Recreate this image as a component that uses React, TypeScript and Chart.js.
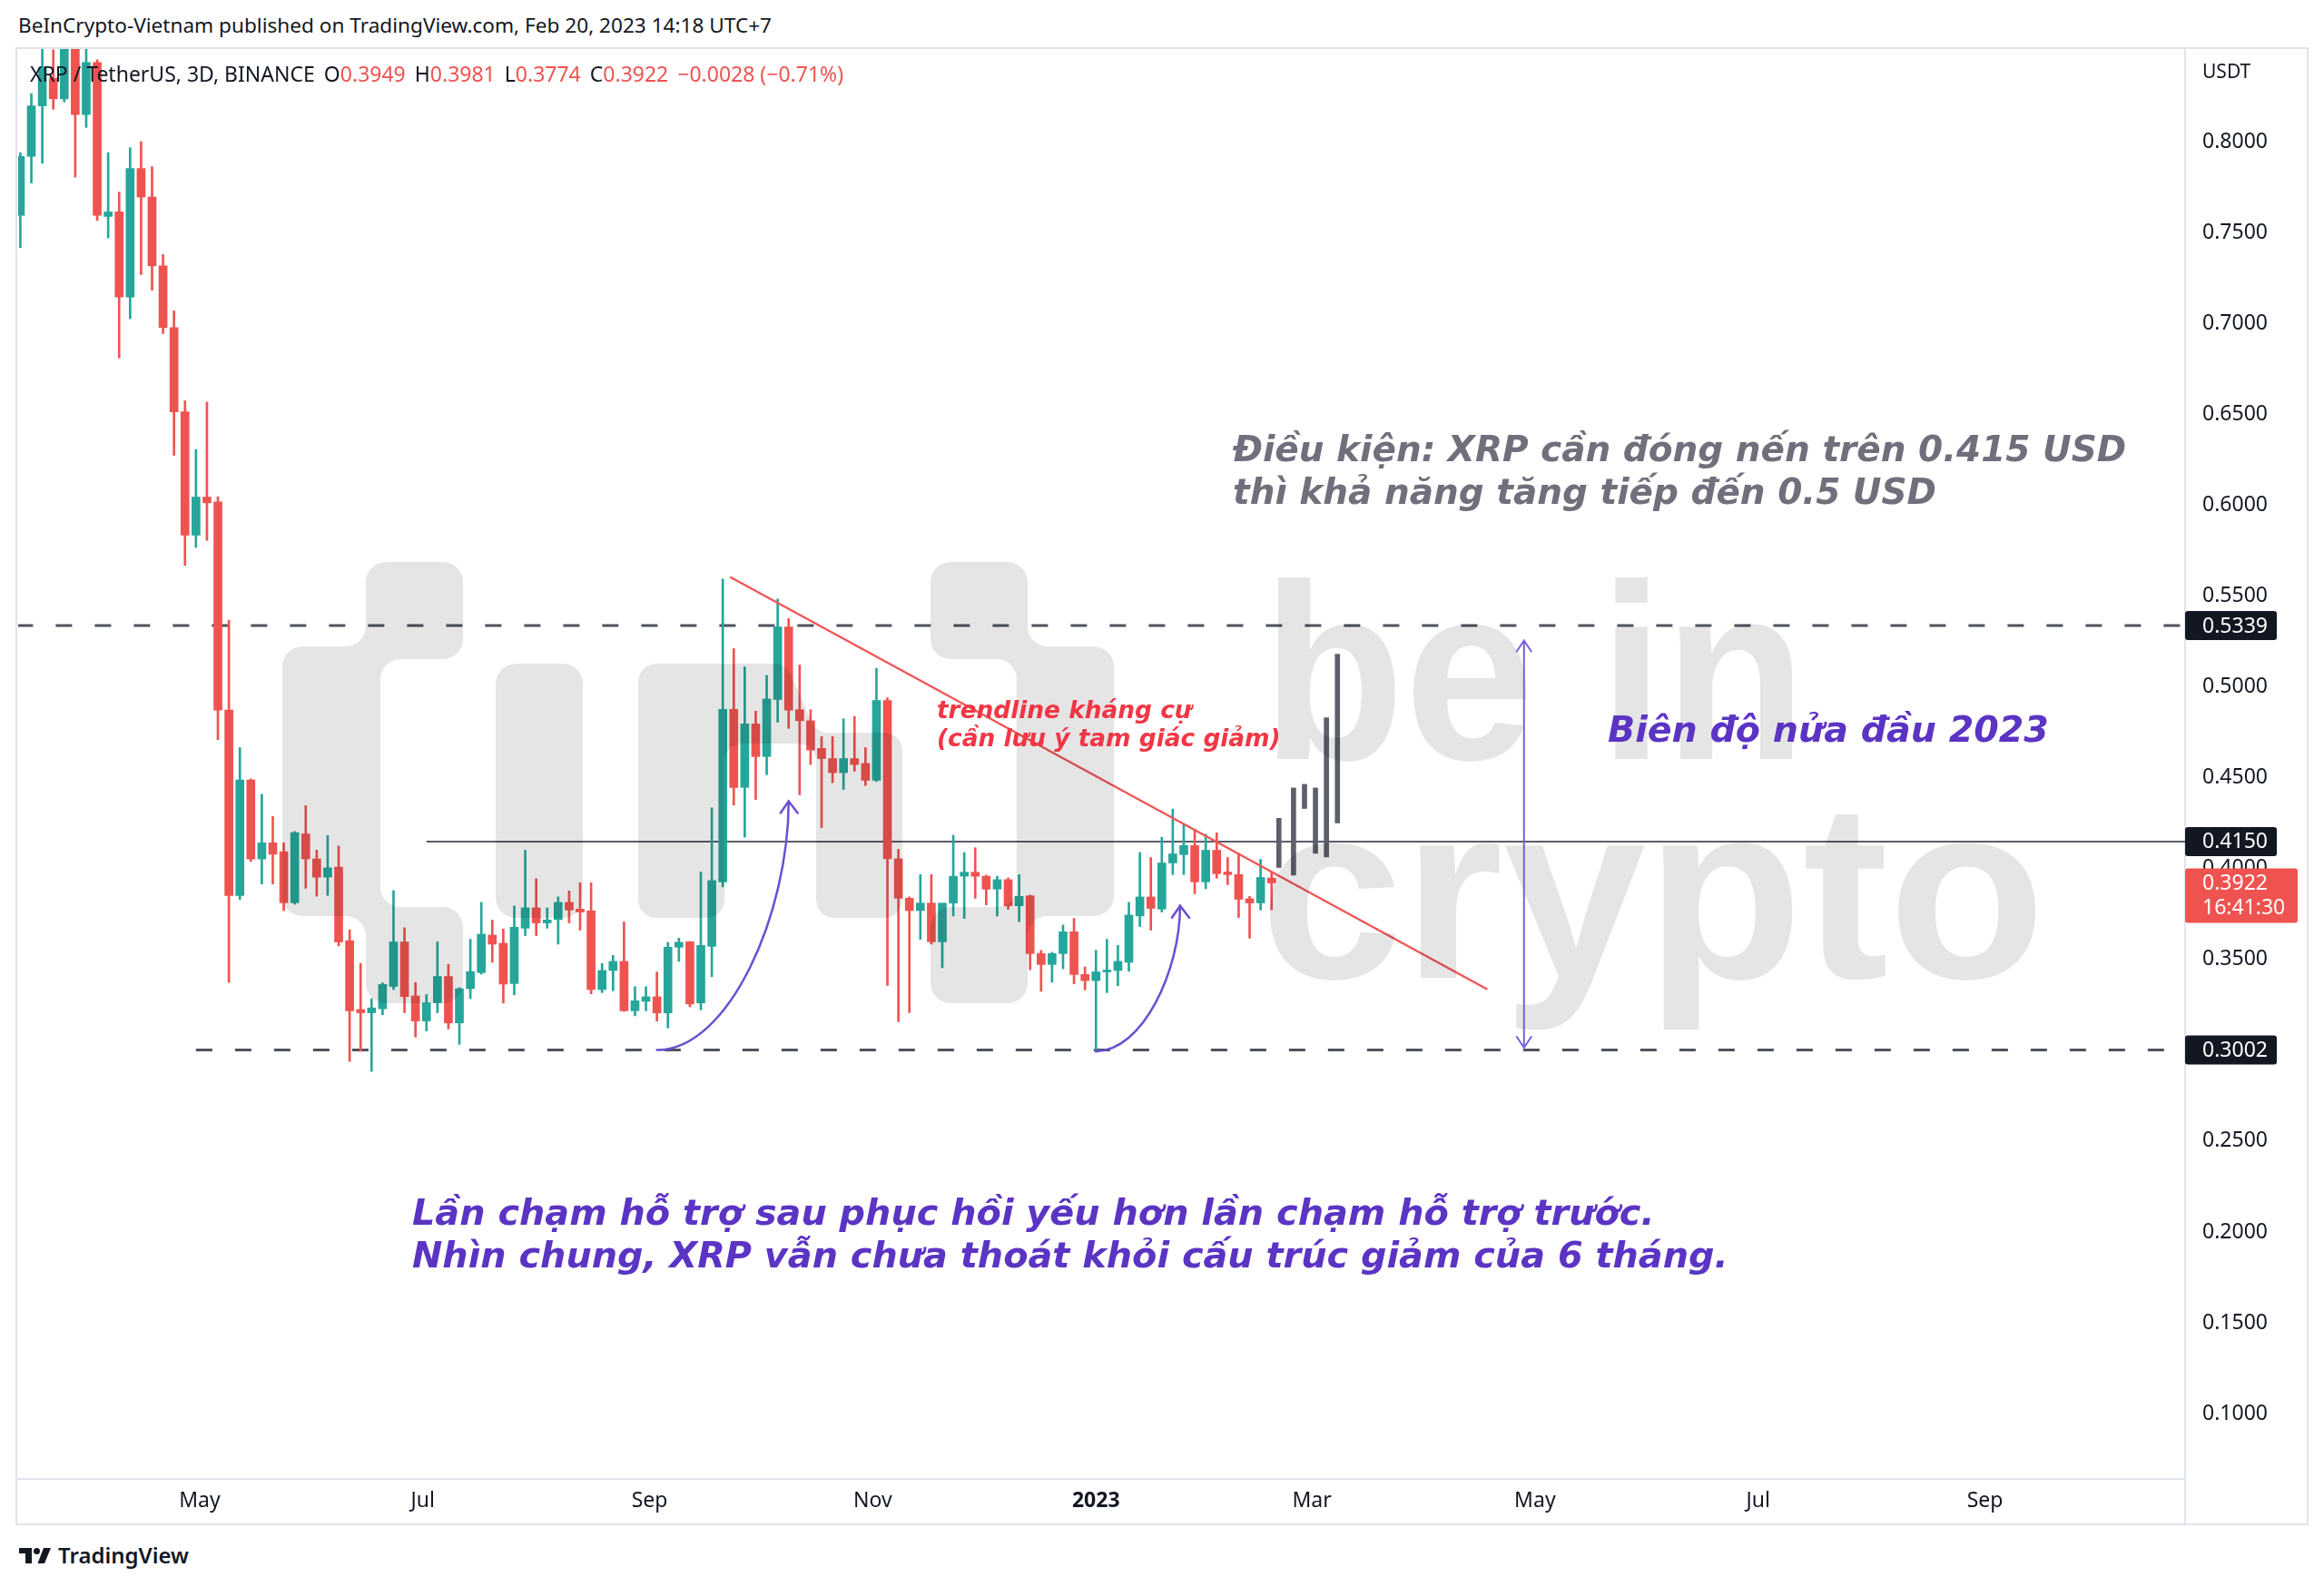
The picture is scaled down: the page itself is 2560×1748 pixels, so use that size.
import React, { useEffect, useRef } from 'react';
import { Chart, registerables } from 'chart.js';

Chart.register(...registerables);

const FONT = "'Noto Sans', 'Open Sans', sans-serif";
const ANN_FONT = "'DejaVu Sans', 'Open Sans', sans-serif";
const GREEN = '#26a69a';
const RED = '#ef5350';

// ---- data -------------------------------------------------------------
const FIRST_CANDLE = '2022-03-13';
const STEP_DAYS = 3;

const opens = [
  0.7598, 0.7923, 0.8201, 0.8354, 0.824, 0.865, 0.8153, 0.844, 0.7592, 0.7617,
  0.7148, 0.7856, 0.7699, 0.732, 0.698, 0.6516, 0.5837, 0.6047, 0.602, 0.4874,
  0.3853, 0.4489, 0.4054, 0.4143, 0.4094, 0.3813, 0.4192, 0.4054, 0.3954, 0.4009,
  0.3604, 0.3225, 0.3207, 0.3229, 0.3352, 0.3597, 0.33, 0.3162, 0.3262, 0.3407,
  0.3151, 0.334, 0.3428, 0.3635, 0.359, 0.3368, 0.3673, 0.3785, 0.3702, 0.372,
  0.3815, 0.3778, 0.3768, 0.3335, 0.344, 0.349, 0.3218, 0.327, 0.3295, 0.3206,
  0.3568, 0.3598, 0.3261, 0.3573, 0.3928, 0.4878, 0.4448, 0.4798, 0.4618, 0.4932,
  0.5332, 0.4876, 0.4815, 0.4663, 0.4607, 0.4529, 0.4607, 0.458, 0.4487, 0.4926,
  0.4055, 0.3838, 0.377, 0.3811, 0.3598, 0.3811, 0.3959, 0.3981, 0.3959, 0.3888,
  0.394, 0.3796, 0.3851, 0.3533, 0.3473, 0.3533, 0.3653, 0.3418, 0.3384, 0.3432,
  0.344, 0.3485, 0.374, 0.3845, 0.3778, 0.4032, 0.4078, 0.4128, 0.3928, 0.4102,
  0.3982, 0.3968, 0.3835, 0.3812, 0.3949,
];
const highs = [
  0.7943, 0.8268, 0.856, 0.851, 0.875, 0.872, 0.862, 0.8455, 0.7943, 0.7726,
  0.7971, 0.8004, 0.7866, 0.7382, 0.7072, 0.6577, 0.6309, 0.657, 0.6049, 0.5369,
  0.4667, 0.4495, 0.441, 0.4288, 0.4143, 0.4205, 0.4348, 0.4103, 0.4183, 0.4125,
  0.3664, 0.3479, 0.3285, 0.3372, 0.388, 0.3675, 0.3374, 0.3307, 0.3597, 0.3474,
  0.3345, 0.3612, 0.3815, 0.3718, 0.3668, 0.3795, 0.4102, 0.3945, 0.3785, 0.3845,
  0.3878, 0.3923, 0.3923, 0.3478, 0.3523, 0.3707, 0.3351, 0.3351, 0.3432, 0.3595,
  0.3618, 0.36, 0.3982, 0.4335, 0.5595, 0.5212, 0.5112, 0.4868, 0.5065, 0.5485,
  0.5378, 0.5122, 0.4876, 0.4728, 0.4728, 0.4826, 0.4839, 0.4667, 0.5104, 0.4941,
  0.4107, 0.3845, 0.3968, 0.3968, 0.3605, 0.4185, 0.4089, 0.4116, 0.3965, 0.3959,
  0.395, 0.3968, 0.3855, 0.3551, 0.354, 0.369, 0.3727, 0.3459, 0.3551, 0.3612,
  0.3578, 0.3815, 0.409, 0.4062, 0.4173, 0.4329, 0.4245, 0.4218, 0.419, 0.4198,
  0.4062, 0.4085, 0.3848, 0.4052, 0.3981,
];
const lows = [
  0.742, 0.7776, 0.7885, 0.8182, 0.8222, 0.7809, 0.8082, 0.757, 0.7474, 0.6813,
  0.7029, 0.7272, 0.7186, 0.6947, 0.6277, 0.567, 0.577, 0.5808, 0.4711, 0.3374,
  0.3831, 0.404, 0.3916, 0.3916, 0.3769, 0.3805, 0.3893, 0.3849, 0.3853, 0.3575,
  0.2939, 0.2995, 0.2884, 0.3196, 0.3335, 0.3207, 0.3073, 0.3107, 0.3207, 0.3118,
  0.3033, 0.3285, 0.342, 0.3485, 0.3261, 0.3306, 0.3632, 0.3632, 0.3673, 0.3585,
  0.3702, 0.3662, 0.3311, 0.3318, 0.3328, 0.3215, 0.319, 0.3218, 0.3161, 0.3123,
  0.349, 0.324, 0.3223, 0.3406, 0.39, 0.4351, 0.4174, 0.4381, 0.4518, 0.4807,
  0.4773, 0.4407, 0.4574, 0.4227, 0.4474, 0.4437, 0.4537, 0.4459, 0.448, 0.3357,
  0.3158, 0.3208, 0.3611, 0.3585, 0.3455, 0.374, 0.3727, 0.3838, 0.3801, 0.374,
  0.3777, 0.3709, 0.3444, 0.3325, 0.3375, 0.3449, 0.3366, 0.3333, 0.299, 0.3318,
  0.3356, 0.3435, 0.3682, 0.3662, 0.3762, 0.3968, 0.3968, 0.3862, 0.389, 0.3948,
  0.3912, 0.3732, 0.3618, 0.3773, 0.3774,
];
const closes = [
  0.7923, 0.8201, 0.8412, 0.824, 0.868, 0.8153, 0.844, 0.7598, 0.7617, 0.7148,
  0.7856, 0.7699, 0.732, 0.698, 0.6516, 0.5837, 0.6047, 0.6015, 0.4874, 0.3853,
  0.4489, 0.4054, 0.4143, 0.408, 0.3813, 0.4199, 0.4054, 0.3954, 0.4005, 0.3597,
  0.3218, 0.3207, 0.3234, 0.3363, 0.3597, 0.3296, 0.3162, 0.3262, 0.3407, 0.3151,
  0.334, 0.3434, 0.364, 0.3585, 0.3365, 0.3678, 0.3785, 0.3702, 0.3718, 0.3815,
  0.3773, 0.3762, 0.3335, 0.344, 0.349, 0.3218, 0.3273, 0.3295, 0.3206, 0.3568,
  0.3595, 0.3256, 0.3578, 0.3935, 0.4878, 0.4448, 0.4798, 0.4618, 0.4935, 0.5332,
  0.4873, 0.4815, 0.4654, 0.4607, 0.4529, 0.4607, 0.4574, 0.4487, 0.4926, 0.4055,
  0.3838, 0.377, 0.3811, 0.3598, 0.3811, 0.3959, 0.3981, 0.3959, 0.3888, 0.394,
  0.3796, 0.3848, 0.3533, 0.3473, 0.3533, 0.3653, 0.3418, 0.3384, 0.3432, 0.344,
  0.349, 0.3745, 0.3845, 0.3782, 0.4032, 0.4082, 0.4128, 0.3928, 0.4102, 0.3973,
  0.3968, 0.3832, 0.3812, 0.3952, 0.3922,
];

// projected (ghost) bars
const projDates = ['2023-02-20', '2023-02-24', '2023-02-27', '2023-03-02', '2023-03-05', '2023-03-08'];
const projLows = [0.4007, 0.3965, 0.4332, 0.4085, 0.4065, 0.4252];
const projHighs = [0.4278, 0.4445, 0.4465, 0.4445, 0.4832, 0.5182];

// horizontal levels
const levelPrices = [0.5339, 0.3002, 0.415];
const levelStarts = ['2022-03-12', '2022-04-30', '2022-07-02'];
const levelDashed = [true, true, false];

// trendline
const trendDates = ['2022-09-23', '2023-04-18'];
const trendPrices = [0.5607, 0.3336];

// purple arrows (start -> end)
const arrowADates = ['2022-09-03', '2022-10-09'];
const arrowAPrices = [0.3002, 0.4372];
const arrowBDates = ['2023-01-01', '2023-01-24'];
const arrowBPrices = [0.2995, 0.3796];
const rangeArrowDate = '2023-04-28';
const rangeArrowPrices = [0.5257, 0.3015];

// axes
const priceTicks = [0.1, 0.15, 0.2, 0.25, 0.3, 0.35, 0.4, 0.45, 0.5, 0.55, 0.6, 0.65, 0.7, 0.75, 0.8];
const monthTickDates = ['2022-05-01', '2022-07-01', '2022-09-01', '2022-11-01', '2023-01-01', '2023-03-01', '2023-05-01', '2023-07-01', '2023-09-01'];
const monthTickLabels = ['May', 'Jul', 'Sep', 'Nov', '2023', 'Mar', 'May', 'Jul', 'Sep'];
const Y_MIN = 0.064;
const Y_MAX = 0.8514;
const X_MIN_DATE = '2022-03-12';
const X_MAX_DATE = '2023-10-25';

// right-axis price labels
const axisBoxPrices = [0.5339, 0.415, 0.3002];
const lastPrice = 0.3922;
const lastPriceTimer = '16:41:30';

// ---- helpers ----------------------------------------------------------
const dayNum = (s: string) => Date.parse(s + 'T00:00:00Z') / 86400000;
const candleDays = opens.map((_, i) => dayNum(FIRST_CANDLE) + i * STEP_DAYS);
const X_MIN = dayNum(X_MIN_DATE) + 0.4;
const X_MAX = dayNum(X_MAX_DATE) + 0.7;

// canvas offset in page
const OX = 18;
const OY = 53;

function rr(ctx: CanvasRenderingContext2D, x: number, y: number, w: number, h: number, r: number) {
  ctx.moveTo(x + r, y);
  ctx.arcTo(x + w, y, x + w, y + h, r);
  ctx.arcTo(x + w, y + h, x, y + h, r);
  ctx.arcTo(x, y + h, x, y, r);
  ctx.arcTo(x, y, x + w, y, r);
  ctx.closePath();
}

function poly(ctx: CanvasRenderingContext2D, pts: number[][], r: number) {
  const n = pts.length;
  const mid = (a: number[], b: number[]) => [(a[0] + b[0]) / 2, (a[1] + b[1]) / 2];
  const start = mid(pts[n - 1], pts[0]);
  ctx.moveTo(start[0], start[1]);
  for (let i = 0; i < n; i++) {
    const p = pts[i];
    const q = pts[(i + 1) % n];
    ctx.arcTo(p[0], p[1], q[0], q[1], r);
  }
  ctx.closePath();
}

function fitText(ctx: CanvasRenderingContext2D, text: string, x: number, base: number, width: number) {
  const m = ctx.measureText(text).width;
  ctx.save();
  ctx.translate(x, base);
  ctx.scale(width / m, 1);
  ctx.fillText(text, 0, 0);
  ctx.restore();
}

const watermarkPlugin = {
  id: 'watermark',
  afterDatasetsDraw(chart: any) {
    const ctx: CanvasRenderingContext2D = chart.ctx;
    ctx.save();
    ctx.translate(-OX, -OY);
    ctx.fillStyle = 'rgba(0,0,0,0.1)';
    ctx.beginPath();
    // left bracket
    poly(ctx, [[403, 619], [510, 619], [510, 726], [419, 726], [419, 999], [510, 999], [510, 1105], [403, 1105], [403, 1009], [311, 1009], [311, 712], [403, 712]], 22);
    // i
    rr(ctx, 546, 731, 96, 280, 22);
    // n
    poly(ctx, [[703, 731], [866, 731], [899, 807], [994, 807], [994, 1011], [899, 1011], [899, 819], [798, 819], [798, 1011], [703, 1011]], 20);
    // right bracket
    poly(ctx, [[1025, 619], [1132, 619], [1132, 712], [1227, 712], [1227, 1009], [1132, 1009], [1132, 1105], [1025, 1105], [1025, 999], [1120, 999], [1120, 726], [1025, 726]], 22);
    ctx.fill();
    ctx.font = "bold 276px 'Liberation Sans', Arial, sans-serif";
    ctx.textBaseline = 'alphabetic';
    fitText(ctx, 'be in', 1390, 836, 600);
    fitText(ctx, 'crypto', 1388, 1077, 865);
    ctx.restore();
  },
};

const overlayPlugin = {
  id: 'overlay',
  afterDraw(chart: any) {
    const ctx: CanvasRenderingContext2D = chart.ctx;
    const xs = chart.scales.x;
    const ys = chart.scales.y;
    const area = chart.chartArea;
    const px = (d: string) => xs.getPixelForValue(dayNum(d));
    const py = (p: number) => ys.getPixelForValue(p);

    ctx.save();
    ctx.strokeStyle = '#e0e3eb';
    ctx.lineWidth = 2;
    ctx.beginPath();
    ctx.moveTo(area.right, area.bottom);
    ctx.lineTo(area.right, chart.height);
    ctx.stroke();

    // purple curved arrows
    ctx.strokeStyle = '#6a4fd2';
    ctx.lineWidth = 2.5;
    ctx.lineCap = 'round';
    const curve = (dates: string[], prices: number[]) => {
      const x0 = px(dates[0]), y0 = py(prices[0]);
      const x1 = px(dates[1]), y1 = py(prices[1]);
      ctx.beginPath();
      ctx.moveTo(x0, y0);
      ctx.bezierCurveTo(x0 + 0.55 * (x1 - x0), y0, x1, y1 + 0.45 * (y0 - y1), x1, y1);
      ctx.stroke();
      ctx.beginPath();
      ctx.moveTo(x1 - 9, y1 + 13);
      ctx.lineTo(x1, y1);
      ctx.lineTo(x1 + 10, y1 + 13);
      ctx.stroke();
    };
    curve(arrowADates, arrowAPrices);
    curve(arrowBDates, arrowBPrices);

    // vertical range arrow
    ctx.strokeStyle = '#7a5fd8';
    ctx.lineWidth = 2;
    const vx = px(rangeArrowDate);
    const vt = py(rangeArrowPrices[0]);
    const vb = py(rangeArrowPrices[1]);
    ctx.beginPath();
    ctx.moveTo(vx, vt);
    ctx.lineTo(vx, vb);
    ctx.moveTo(vx - 8, vt + 12);
    ctx.lineTo(vx, vt);
    ctx.lineTo(vx + 8, vt + 12);
    ctx.moveTo(vx - 8, vb - 12);
    ctx.lineTo(vx, vb);
    ctx.lineTo(vx + 8, vb - 12);
    ctx.stroke();

    // right axis price boxes
    ctx.font = `23px ${FONT}`;
    ctx.textBaseline = 'middle';
    ctx.textAlign = 'left';
    axisBoxPrices.forEach((p) => {
      const y = py(p);
      ctx.fillStyle = '#131722';
      ctx.beginPath();
      rr(ctx, area.right, y - 16, 101, 32, 3);
      ctx.fill();
      ctx.fillStyle = '#ffffff';
      ctx.fillText(p.toFixed(4), area.right + 19, y + 1);
    });
    const ly = py(lastPrice);
    ctx.fillStyle = RED;
    ctx.beginPath();
    rr(ctx, area.right, ly - 16, 124, 60, 3);
    ctx.fill();
    ctx.fillStyle = '#ffffff';
    ctx.fillText(lastPrice.toFixed(4), area.right + 19, ly + 1);
    ctx.fillText(lastPriceTimer, area.right + 19, ly + 28);
    ctx.restore();
  },
};

export default function App() {
  const ref = useRef<HTMLCanvasElement | null>(null);

  useEffect(() => {
    if (!ref.current) return;
    const bodyColor = (c: any) => (closes[c.dataIndex] >= opens[c.dataIndex] ? GREEN : RED);
    const levelSets = levelPrices.map((p, i) => ({
      type: 'line' as const,
      data: [
        { x: dayNum(levelStarts[i]), y: p },
        { x: X_MAX, y: p },
      ],
      borderColor: levelDashed[i] ? '#50535e' : '#5a5d68',
      borderWidth: levelDashed[i] ? 3 : 2,
      borderDash: levelDashed[i] ? [18, 25] : [],
      pointRadius: 0,
      order: 5,
    }));

    const chart = new Chart(ref.current, {
      type: 'bar',
      data: {
        datasets: [
          {
            type: 'line',
            data: trendDates.map((d, i) => ({ x: dayNum(d), y: trendPrices[i] })),
            borderColor: '#f05656',
            borderWidth: 2.5,
            pointRadius: 0,
            order: 0,
          } as any,
          {
            data: candleDays.map((d, i) => ({ x: d, y: [opens[i], closes[i]] })),
            backgroundColor: bodyColor,
            barThickness: 9,
            minBarLength: 2,
            grouped: false,
            borderWidth: 0,
            order: 1,
          } as any,
          {
            data: candleDays.map((d, i) => ({ x: d, y: [lows[i], highs[i]] })),
            backgroundColor: bodyColor,
            barThickness: 2,
            grouped: false,
            borderWidth: 0,
            order: 2,
          } as any,
          {
            data: projDates.map((d, i) => ({ x: dayNum(d), y: [projLows[i], projHighs[i]] })),
            backgroundColor: '#5d606b',
            barThickness: 5,
            grouped: false,
            borderWidth: 0,
            order: 3,
          } as any,
          ...(levelSets as any[]),
        ],
      },
      options: {
        animation: false,
        responsive: true,
        maintainAspectRatio: false,
        events: [],
        layout: { padding: { left: 2, top: 1, right: 0, bottom: 0 } },
        plugins: { legend: { display: false }, tooltip: { enabled: false } },
        scales: {
          x: {
            type: 'linear',
            min: X_MIN,
            max: X_MAX,
            offset: false,
            grid: { display: false, drawTicks: false },
            border: { display: true, color: '#e0e3eb', width: 2 },
            afterBuildTicks: (s: any) => {
              s.ticks = monthTickDates.map((d) => ({ value: dayNum(d) }));
            },
            afterFit: (s: any) => {
              s.height = 50;
              s.paddingLeft = 0;
              s.paddingRight = 0;
            },
            ticks: {
              autoSkip: false,
              maxRotation: 0,
              minRotation: 0,
              padding: 11,
              color: '#131722',
              font: (c: any) => ({ family: FONT, size: 23, weight: c.index === 4 ? 'bold' : 'normal' }),
              callback: (_v: any, i: number) => monthTickLabels[i],
            },
          },
          y: {
            type: 'linear',
            position: 'right',
            min: Y_MIN,
            max: Y_MAX,
            grid: { display: false, drawTicks: false },
            border: { display: true, color: '#e0e3eb', width: 2 },
            afterBuildTicks: (s: any) => {
              s.ticks = priceTicks.map((v) => ({ value: v }));
            },
            afterFit: (s: any) => {
              s.width = 135;
              s.paddingTop = 0;
              s.paddingBottom = 0;
            },
            ticks: {
              padding: 19,
              color: '#131722',
              font: { family: FONT, size: 23 },
              callback: (v: any) => Number(v).toFixed(4),
            },
          },
        },
      } as any,
      plugins: [watermarkPlugin, overlayPlugin],
    });
    return () => chart.destroy();
  }, []);

  const ann: React.CSSProperties = {
    position: 'absolute',
    fontFamily: ANN_FONT,
    fontStyle: 'italic',
    fontWeight: 700,
    whiteSpace: 'nowrap',
  };
  const val = { color: RED };
  const gap = { marginLeft: 10 };

  return (
    <div
      style={{
        position: 'absolute',
        left: 0,
        top: 0,
        width: 2560,
        height: 1748,
        background: '#ffffff',
        fontFamily: FONT,
        color: '#131722',
        overflow: 'hidden',
      }}
    >
      <div style={{ position: 'absolute', left: 20, top: 14, fontSize: 22.6, lineHeight: '28px', whiteSpace: 'nowrap' }}>
        BeInCrypto-Vietnam published on TradingView.com, Feb 20, 2023 14:18 UTC+7
      </div>
      <div
        style={{
          position: 'absolute',
          left: 17,
          top: 52,
          width: 2526,
          height: 1628,
          border: '2px solid #e0e3eb',
          boxSizing: 'border-box',
        }}
      />
      <div style={{ position: 'absolute', left: OX, top: OY, width: 2524, height: 1626 }}>
        <canvas ref={ref} />
      </div>
      <div style={{ position: 'absolute', left: 33, top: 67, fontSize: 23, lineHeight: '28px', whiteSpace: 'nowrap' }}>
        <span>XRP / TetherUS, 3D, BINANCE</span>
        <span style={gap}>O</span>
        <span style={val}>0.3949</span>
        <span style={gap}>H</span>
        <span style={val}>0.3981</span>
        <span style={gap}>L</span>
        <span style={val}>0.3774</span>
        <span style={gap}>C</span>
        <span style={val}>0.3922</span>
        <span style={{ ...val, ...gap }}>−0.0028 (−0.71%)</span>
      </div>
      <div style={{ position: 'absolute', left: 2426, top: 64, fontSize: 21, lineHeight: '28px' }}>USDT</div>

      <div style={{ ...ann, left: 1358, top: 471, fontSize: 39, lineHeight: '47px', color: '#6f707c' }}>
        Điều kiện: XRP cần đóng nến trên 0.415 USD
        <br />
        thì khả năng tăng tiếp đến 0.5 USD
      </div>
      <div style={{ ...ann, left: 1771, top: 780, fontSize: 39.6, lineHeight: '46px', color: '#5b34c4' }}>
        Biên độ nửa đầu 2023
      </div>
      <div style={{ ...ann, left: 1032, top: 766, fontSize: 26.4, lineHeight: '31px', color: '#f23645' }}>
        trendline kháng cự
        <br />
        (cần lưu ý tam giác giảm)
      </div>
      <div style={{ ...ann, left: 454, top: 1312, fontSize: 39.8, lineHeight: '47px', color: '#5b34c4' }}>
        Lần chạm hỗ trợ sau phục hồi yếu hơn lần chạm hỗ trợ trước.
        <br />
        Nhìn chung, XRP vẫn chưa thoát khỏi cấu trúc giảm của 6 tháng.
      </div>

      <svg style={{ position: 'absolute', left: 20, top: 1704 }} width="38" height="18" viewBox="0 0 36 18">
        <path d="M14 18H7V7H0V1h14z" fill="#131722" />
        <circle cx="19.5" cy="4.5" r="3.5" fill="#131722" />
        <path d="M28 18h-7.5L27 1h8z" fill="#131722" />
      </svg>
      <div style={{ position: 'absolute', left: 64, top: 1698, fontSize: 24, fontWeight: 600, lineHeight: '30px' }}>
        TradingView
      </div>
    </div>
  );
}
